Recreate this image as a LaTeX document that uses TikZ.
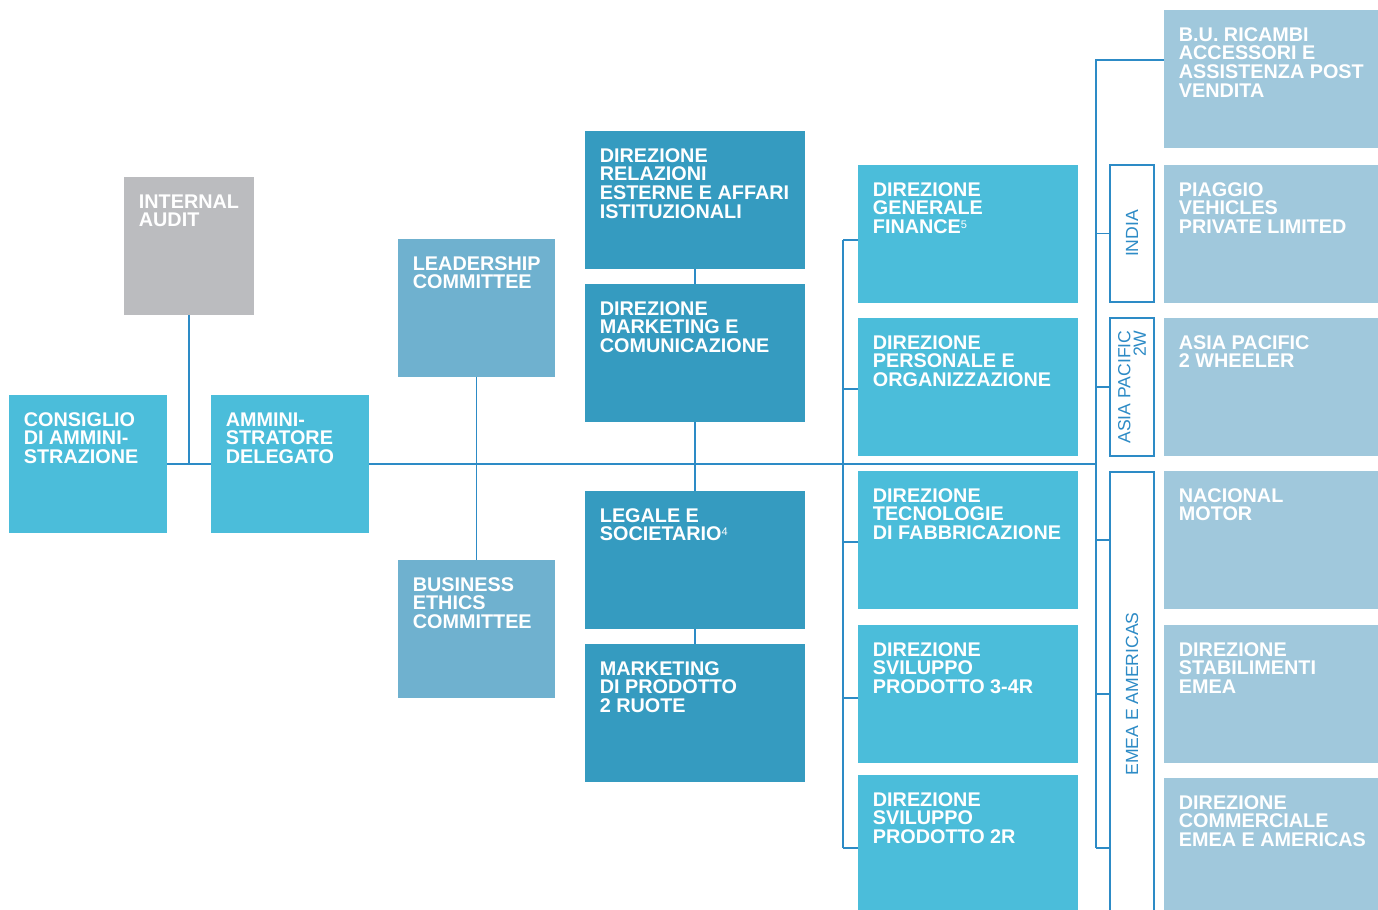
\documentclass[tikz,border=0pt]{standalone}
\usepackage{fontspec}
\setmainfont{Liberation Sans}
\usepackage{xcolor}
\usepackage{tikz}
\usetikzlibrary{positioning,calc}

\definecolor{cyanbox}{HTML}{4BBDDA}
\definecolor{tealbox}{HTML}{359BC0}
\definecolor{commbox}{HTML}{6FB1CF}
\definecolor{palebox}{HTML}{A0C8DC}
\definecolor{greybox}{HTML}{BBBCBF}
\definecolor{linkblue}{HTML}{2D8BC6}

\tikzset{
  orgbox/.style={fill=#1, draw=none, inner sep=0pt, outer sep=0pt, anchor=north west},
  topbox/.style={orgbox=cyanbox, minimum width=79pt, minimum height=69pt},
  auditbox/.style={orgbox=greybox, minimum width=65pt, minimum height=69pt},
  commbox/.style={orgbox=commbox, minimum width=78.5pt, minimum height=69pt},
  staffbox/.style={orgbox=tealbox, minimum width=110pt, minimum height=69pt},
  dirbox/.style={orgbox=cyanbox, minimum width=110pt, minimum height=69pt},
  unitbox/.style={orgbox=palebox, minimum width=107pt, minimum height=69pt},
  areabox/.style={draw=linkblue, line width=0.6pt, fill=white, inner sep=0pt,
    outer sep=0pt, anchor=north west, minimum width=22pt},
  areatext/.style={text=linkblue, rotate=90, align=right, inner sep=0pt,
    font=\fontsize{8.8}{7.8}\selectfont},
  boxtext/.style={text=white, align=left, inner sep=0pt, anchor=north west,
    font=\bfseries\fontsize{9.9}{9.35}\selectfont},
  link/.style={draw=linkblue, line width=0.75pt}
}

% box + its text, text hung from the top left corner
\newcommand{\orgbox}[4]{%
  \node[#2] (#1) at (#3) {};
  \node[boxtext] (#1-t) at ([shift={(14.5,17)}]#1.north west) {#4};
}
% footnote mark, top level with the capitals
\newcommand{\fnmark}[1]{\raisebox{2.6pt}{\fontsize{5.5}{5.5}\selectfont\mdseries #1}}

\begin{document}
\begin{tikzpicture}[x=0.5pt, y=-0.5pt]
    \useasboundingbox (0,0) rectangle (1378,910);

    % Vertice
    \orgbox{cda}{topbox}{9,395}{CONSIGLIO\\DI AMMINI-\\STRAZIONE}
    \orgbox{ad}{topbox}{211,395}{AMMINI-\\STRATORE\\DELEGATO}
    \orgbox{ia}{auditbox}{124,177}{INTERNAL\\AUDIT}

    % Comitati
    \orgbox{lc}{commbox}{398,239}{LEADERSHIP\\COMMITTEE}
    \orgbox{bec}{commbox}{398,560}{BUSINESS\\ETHICS\\COMMITTEE}

    % Staff
    \orgbox{rel}{staffbox}{585,131}{DIREZIONE\\RELAZIONI\\ESTERNE E AFFARI\\ISTITUZIONALI}
    \orgbox{mkt}{staffbox}{585,284}{DIREZIONE\\MARKETING E\\COMUNICAZIONE}
    \orgbox{leg}{staffbox}{585,491}{LEGALE E\\SOCIETARIO\fnmark{4}}
    \orgbox{mdp}{staffbox}{585,644}{MARKETING\\DI PRODOTTO\\2 RUOTE}

    % Direzioni
    \orgbox{fin}{dirbox}{858,165}{DIREZIONE\\GENERALE\\FINANCE\fnmark{5}}
    \orgbox{per}{dirbox}{858,318}{DIREZIONE\\PERSONALE E\\ORGANIZZAZIONE}
    \orgbox{tec}{dirbox}{858,471}{DIREZIONE\\TECNOLOGIE\\DI FABBRICAZIONE}
    \orgbox{sv3}{dirbox}{858,625}{DIREZIONE\\SVILUPPO\\PRODOTTO 3-4R}
    \orgbox{sv2}{dirbox}{858,775}{DIREZIONE\\SVILUPPO\\PRODOTTO 2R}

    % Aree geografiche
    \node[areabox, minimum height=68.5pt] (india) at (1110,165) {};
    \node[areatext] (india-t) at (india.center) {INDIA};
    \node[areabox, minimum height=69pt] (asia) at (1110,318) {};
    \node[areatext] (asia-t) at (asia.center) {ASIA PACIFIC\\2W};
    \node[areabox, minimum height=222pt] (emea) at (1110,472) {};
    \node[areatext] (emea-t) at (emea.center) {EMEA E AMERICAS};

    % Business unit e societa
    \orgbox{bu}{unitbox}{1164,10}{B.U. RICAMBI\\ACCESSORI E\\ASSISTENZA POST\\VENDITA}
    \orgbox{pvpl}{unitbox}{1164,165}{PIAGGIO\\VEHICLES\\PRIVATE LIMITED}
    \orgbox{ap2w}{unitbox}{1164,318}{ASIA PACIFIC\\2 WHEELER}
    \orgbox{nm}{unitbox}{1164,471}{NACIONAL\\MOTOR}
    \orgbox{stab}{unitbox}{1164,625}{DIREZIONE\\STABILIMENTI\\EMEA}
    \orgbox{comm}{unitbox}{1164,778}{DIREZIONE\\COMMERCIALE\\EMEA E AMERICAS}

    % Linea principale
    \coordinate (c6top) at (1096,60);
    \coordinate (c6bot) at (1096,848);
    \coordinate (hub) at (c6top |- cda.east);
    \draw[link] (cda.east) -- (ad.west);
    \draw[link] (ad.east) -- (hub);
    \draw[link] (ia.south) -- (ia.south |- cda.east);
    \draw[link] (lc.south) -- (bec.north);
    \draw[link] (rel.south) -- (mkt.north);
    \draw[link] (mkt.south) -- (leg.north);
    \draw[link] (leg.south) -- (mdp.north);

    % Direzioni
    \coordinate (c4top) at (843,240);
    \coordinate (c4bot) at (843,848);
    \draw[link] (c4top) -- (c4bot);
    \draw[link] (c4top) -- (fin.west |- c4top);
    \draw[link] ([yshift=-35.5pt]per.north west) -- ++(-15,0);
    \draw[link] ([yshift=-35.5pt]tec.north west) -- ++(-15,0);
    \draw[link] ([yshift=-36.5pt]sv3.north west) -- ++(-15,0);
    \draw[link] (c4bot) -- (sv2.west |- c4bot);

    % Aree
    \draw[link] (bu.west |- c6top) -- (c6top) -- (c6bot);
    \draw[link] (c6top |- india.west) -- (india.west);
    \draw[link] (c6top |- asia.west) -- (asia.west);
    \draw[link] (c6top |- nm.west) -- (emea.west |- nm.west);
    \draw[link] (c6top |- stab.west) -- (emea.west |- stab.west);
    \draw[link] (c6bot) -- (emea.west |- c6bot);
\end{tikzpicture}
\end{document}
